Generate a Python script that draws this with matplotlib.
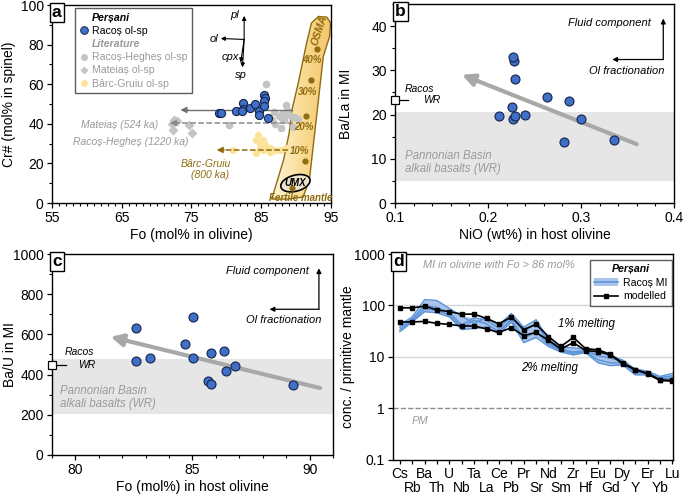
import matplotlib
matplotlib.use('Agg')
import matplotlib.pyplot as plt
import numpy as np
from matplotlib.patches import Polygon, Patch
from matplotlib.lines import Line2D
from matplotlib.colors import LinearSegmentedColormap
from matplotlib.ticker import MultipleLocator, NullLocator, FixedLocator

plt.rcParams['font.family'] = ['Liberation Sans', 'DejaVu Sans']
plt.rcParams['font.size'] = 10
plt.rcParams['axes.linewidth'] = 1.0

BLUE = '#3f6fc6'
BLUE_EDGE = '#15244a'
LIT_GRAY = '#c4c4c4'
YELLOW = '#fde39a'
BROWN = '#8f6c10'
TXT_GRAY = '#9a9a9a'
BAND = '#e6e6e6'

# ---- panel a: olivine-spinel pairs
racos_fo = [78.9, 79.2, 81.4, 82.4, 82.4, 82.3, 83.4, 84.1, 84.7, 84.7, 85.4, 85.5, 85.4, 85.4, 86.0]
racos_cr = [45.7, 45.7, 46.7, 50.5, 47.4, 46.7, 48.0, 50.0, 46.7, 44.2, 54.7, 53.0, 51.3, 48.8, 42.9]
rh_fo = [85.7, 88.6, 80.4, 86.9, 87.5, 88.0, 88.5, 89.0, 89.5, 90.0, 90.2, 87.8, 87.0, 88.2, 89.6, 88.0, 88.7, 86.6]
rh_cr = [60.3, 49.6, 39.5, 45.9, 43.8, 42.7, 44.4, 44.4, 43.2, 42.7, 42.2, 37.9, 40.1, 41.8, 38.4, 44.9, 46.9, 42.0]
mat_fo = [72.5, 72.9, 72.4, 74.7, 75.1, 72.2]
mat_cr = [42.0, 41.5, 37.0, 39.5, 35.6, 39.8]
bg_fo = [84.6, 84.3, 84.8, 85.3, 84.8, 84.3, 85.3, 86.3, 87.0, 87.7, 88.6, 86.3, 81.0, 85.5]
bg_cr = [34.4, 31.9, 30.2, 31.9, 27.7, 25.2, 26.8, 27.7, 26.8, 26.8, 27.7, 25.9, 26.8, 29.4]

osma_dot_fo = [93.0, 92.1, 91.4, 91.3]
osma_dot_cr = [77.7, 62.2, 43.7, 21.4]
osma_pct = ['40%', '30%', '20%', '10%']
osma_pct_fo = [92.3, 91.6, 91.1, 90.5]
osma_pct_cr = [72.0, 56.0, 38.5, 26.5]
fertile_fo, fertile_cr = 89.45, 7.4

osma_edge_fo = [86.5, 88.2, 89.0, 89.4, 90.3, 91.5, 92.2, 93.2, 94.4, 94.95, 94.8, 93.9, 93.2, 92.5, 91.9, 91.0, 88.8]
osma_edge_cr = [2.0, 21.7, 35.3, 47.0, 60.5, 80.8, 90.9, 94.2, 93.9, 90.9, 84.1, 74.0, 52.1, 30.2, 11.6, 3.0, 2.0]

# ---- panel b: Ba/La vs NiO
nio = [0.212, 0.227, 0.229, 0.226, 0.228, 0.227, 0.229, 0.240, 0.264, 0.287, 0.300, 0.282, 0.335]
ba_la = [19.6, 18.9, 19.6, 21.7, 32.1, 33.1, 28.1, 19.8, 24.0, 23.1, 18.9, 13.8, 14.3]
racos_wr_bala = 23.4
pannonian_bala = (5.0, 20.5)

# ---- panel c: Ba/U vs Fo
fo_host = [82.57, 82.57, 83.17, 85.03, 84.68, 85.03, 85.8, 86.36, 86.8, 86.43, 85.68, 85.8, 89.28]
ba_u = [634, 468, 481, 688, 552, 481, 506, 519, 443, 418, 368, 353, 347]
racos_wr_bau = 448
pannonian_bau = (205, 476)

# ---- panel d: spider diagram
elements = ['Cs', 'Rb', 'Ba', 'Th', 'U', 'Nb', 'Ta', 'La', 'Ce', 'Pb', 'Pr', 'Sr',
            'Nd', 'Sm', 'Zr', 'Hf', 'Eu', 'Gd', 'Dy', 'Y', 'Er', 'Yb', 'Lu']
model_1pct = [90, 90, 97, 82, 76, 68, 68, 56, 44, 60, 34, 43, 25, 16, 24, 14.5, 13.8, 11.3, 7.6, 5.7, 4.8, 3.6, 3.5]
model_2pct = [48, 48, 49, 45, 43, 40, 40, 35, 30, 37, 26, 30, 21, 14.3, 19, 13.3, 12.7, 11.0, 7.3, 5.7, 4.7, 3.5, 3.4]
mi_1 = [42, 60, 130, 125, 88, 62, 45, 58, 42, 70, 38, 53, 22, 15.5, 15, 14.5, 13, 10.5, 8.7, 5.8, 5.3, 4.2, 4.8]
mi_2 = [38, 55, 100, 92, 72, 42, 58, 52, 36, 62, 31, 46, 19, 14, 12.5, 13.5, 10.5, 9.5, 8.2, 5.5, 5.0, 4.0, 4.3]
mi_3 = [34, 51, 86, 80, 66, 37, 52, 44, 31, 54, 23, 31, 17.5, 13.2, 11.8, 12.8, 8.8, 7.7, 7.6, 5.0, 4.8, 3.8, 3.9]
mi_4 = [31, 48, 76, 72, 60, 34, 36, 38, 28, 48, 19, 24, 16, 12.5, 11, 12.2, 7.7, 6.8, 7.0, 4.5, 4.5, 3.6, 3.5]


def panel_letter(ax, s):
    ax.text(0.0, 1.0, s, transform=ax.transAxes, ha='left', va='top', fontsize=12.5,
            fontweight='bold', zorder=10,
            bbox=dict(boxstyle='square,pad=0.12', fc='white', ec='black', lw=1.0))


def arrow(ax, xy, xytext, color='black', lw=1.0, ms=8, ls='-'):
    ax.annotate('', xy=xy, xytext=xytext,
                arrowprops=dict(arrowstyle='-|>', color=color, lw=lw, mutation_scale=ms,
                                linestyle=ls, shrinkA=0, shrinkB=0))


def fluid_ol(ax, corner, top, left, fluid_pos, ol_pos):
    arrow(ax, (corner[0], top), corner, ms=7, lw=0.9)
    arrow(ax, (left, corner[1]), corner, ms=7, lw=0.9)
    ax.text(fluid_pos[0], fluid_pos[1], 'Fluid component', ha='right', va='center',
            fontsize=8, style='italic')
    ax.text(ol_pos[0], ol_pos[1], 'Ol fractionation', ha='right', va='center',
            fontsize=8, style='italic')


fig = plt.figure(figsize=(6.85, 4.96), dpi=100)
ax_a = fig.add_axes([0.0759, 0.5907, 0.4073, 0.3992])
ax_b = fig.add_axes([0.5766, 0.5907, 0.4073, 0.4012])
ax_c = fig.add_axes([0.0759, 0.0827, 0.4102, 0.4052])
ax_d = fig.add_axes([0.5737, 0.0726, 0.4088, 0.4153])

# ================= panel a =================
ax = ax_a
ax.set_xlim(55, 95)
ax.set_ylim(0, 100)
ax.xaxis.set_major_locator(FixedLocator([55, 65, 75, 85, 95]))
ax.xaxis.set_minor_locator(MultipleLocator(1))
ax.yaxis.set_major_locator(MultipleLocator(20))
ax.yaxis.set_minor_locator(MultipleLocator(10))
ax.set_xlabel('Fo (mol% in olivine)', labelpad=2)
ax.set_ylabel('Cr# (mol% in spinel)')
ax.yaxis.set_label_coords(-0.13, 0.5)

# OSMA band with a gradient fill
osma_poly = Polygon(np.column_stack([osma_edge_fo, osma_edge_cr]), closed=True,
                    fc='none', ec=BROWN, lw=1.0, zorder=2)
ax.add_patch(osma_poly)
grad = np.linspace(0, 1, 256).reshape(1, -1)
osma_cmap = LinearSegmentedColormap.from_list('osma', ['#fff6dc', '#f9dc95', '#f2c468'])
img = ax.imshow(grad, extent=[86.5, 95, 0, 95], cmap=osma_cmap, aspect='auto', zorder=1)
img.set_clip_path(osma_poly)
ax.scatter(osma_dot_fo, osma_dot_cr, s=12, color=BROWN, zorder=4)
for p, fx, fy in zip(osma_pct, osma_pct_fo, osma_pct_cr):
    ax.text(fx, fy, p, color=BROWN, fontsize=7, style='italic', fontweight='bold',
            ha='center', va='center', zorder=5)
ax.text(93.4, 87.0, 'OSMA', color=BROWN, fontsize=7.5, style='italic', fontweight='bold',
        rotation=72, ha='center', va='center', zorder=5)

# UMX field
t = np.linspace(0, 2 * np.pi, 100)
phi = np.deg2rad(15)
ex = 15 * np.cos(t) * np.cos(phi) - 8 * np.sin(t) * np.sin(phi)
ey = 15 * np.cos(t) * np.sin(phi) + 8 * np.sin(t) * np.cos(phi)
ax.fill(89.9 + ex / 6.975, 10.0 + ey / 1.977, fc='#ece4cc', ec='black', lw=1.2, zorder=4)
ax.text(89.9, 10.0, 'UMX', fontsize=7, style='italic', fontweight='bold', ha='center',
        va='center', zorder=6)
ax.scatter([fertile_fo], [fertile_cr], s=12, color=BROWN, zorder=5)
ax.text(90.6, 2.6, 'Fertile mantle', color=BROWN, fontsize=7, style='italic',
        fontweight='bold', ha='center', va='center', zorder=6)

# literature points and arrows
ax.scatter(bg_fo, bg_cr, s=28, color=YELLOW, lw=0, zorder=3)
ax.scatter(mat_fo, mat_cr, s=26, color=LIT_GRAY, marker='D', lw=0, zorder=3)
ax.scatter(rh_fo, rh_cr, s=30, color=LIT_GRAY, lw=0, zorder=3)
ax.plot([89.4, 74.0], [47.0, 47.0], color='#707070', lw=1.0, zorder=3)
arrow(ax, (73.4, 47.0), (74.5, 47.0), color='#707070', ms=9)
ax.plot([89.6, 72.6], [40.4, 40.4], color='#8a8a8a', lw=1.1, ls='--', zorder=3)
arrow(ax, (71.9, 40.4), (73.0, 40.4), color='#8a8a8a', ms=9)
ax.plot([88.8, 79.3], [26.8, 26.8], color=BROWN, lw=1.1, ls='--', zorder=3)
arrow(ax, (78.6, 26.8), (79.7, 26.8), color=BROWN, ms=9)
ax.scatter(racos_fo, racos_cr, s=34, color=BLUE, edgecolor=BLUE_EDGE, lw=0.8, zorder=5)

ax.text(70.3, 39.3, 'Mateiaș (524 ka)', color=TXT_GRAY, fontsize=7.5, style='italic',
        ha='right', va='center')
ax.text(74.5, 31.0, 'Racoș-Hegheș (1220 ka)', color=TXT_GRAY, fontsize=7.5, style='italic',
        ha='right', va='center')
ax.text(77.0, 19.8, 'Bârc-Gruiu', color=BROWN, fontsize=7.5, style='italic', ha='center', va='center')
ax.text(77.6, 14.3, '(800 ka)', color=BROWN, fontsize=7.5, style='italic', ha='center', va='center')

# mineral vectors
ox, oy = 82.55, 82.6
arrow(ax, (ox, 94.5), (ox, oy), ms=6, lw=0.8)
arrow(ax, (79.2, oy + 0.5), (ox, oy), ms=6, lw=0.8)
arrow(ax, (82.05, 71.0), (ox, oy), ms=6, lw=0.8)
arrow(ax, (82.3, 68.5), (ox, oy), ms=6, lw=0.8)
ax.text(81.8, 95.0, 'pl', fontsize=8, style='italic', ha='right', va='center')
ax.text(78.8, 82.6, 'ol', fontsize=8, style='italic', ha='right', va='center')
ax.text(81.8, 73.5, 'cpx', fontsize=8, style='italic', ha='right', va='center')
ax.text(82.1, 64.5, 'sp', fontsize=8, style='italic', ha='center', va='center')

leg_handles = [
    Line2D([], [], ls='none'),
    Line2D([], [], ls='none', marker='o', ms=5.5, mfc=BLUE, mec=BLUE_EDGE, mew=0.7),
    Line2D([], [], ls='none'),
    Line2D([], [], ls='none', marker='o', ms=5, mfc=LIT_GRAY, mec='none'),
    Line2D([], [], ls='none', marker='D', ms=4.5, mfc=LIT_GRAY, mec='none'),
    Line2D([], [], ls='none', marker='o', ms=5, mfc=YELLOW, mec='none'),
]
leg_labels = ['Perșani', 'Racoș ol-sp', 'Literature', 'Racoș-Hegheș ol-sp',
              'Mateiaș ol-sp', 'Bârc-Gruiu ol-sp']
leg = ax.legend(leg_handles, leg_labels, loc='upper left', bbox_to_anchor=(0.083, 0.985),
                fontsize=7.6, frameon=True, fancybox=False, edgecolor='#333333',
                handlelength=0.7, handletextpad=0.4, borderpad=0.45, labelspacing=0.3,
                borderaxespad=0)
leg.get_frame().set_linewidth(1.0)
for i, txt in enumerate(leg.get_texts()):
    if i == 0:
        txt.set_fontweight('bold'); txt.set_style('italic')
    elif i == 2:
        txt.set_fontweight('bold'); txt.set_style('italic'); txt.set_color(TXT_GRAY)
    elif i > 2:
        txt.set_color(TXT_GRAY)
panel_letter(ax, 'a')

# ================= panel b =================
ax = ax_b
ax.set_xlim(0.1, 0.4)
ax.set_ylim(0, 45)
ax.xaxis.set_major_locator(FixedLocator([0.1, 0.2, 0.3, 0.4]))
ax.xaxis.set_minor_locator(MultipleLocator(0.02))
ax.yaxis.set_major_locator(MultipleLocator(10))
ax.yaxis.set_minor_locator(MultipleLocator(5))
ax.set_xticklabels(['0.1', '0.2', '0.3', '0.4'])
ax.set_xlabel('NiO (wt%) in host olivine', labelpad=2)
ax.set_ylabel('Ba/La in MI')
ax.yaxis.set_label_coords(-0.15, 0.5)
ax.axhspan(*pannonian_bala, color=BAND, lw=0, zorder=0)
ax.text(0.111, 10.6, 'Pannonian Basin', color=TXT_GRAY, fontsize=8.3, style='italic', va='center')
ax.text(0.111, 7.6, 'alkali basalts (WR)', color=TXT_GRAY, fontsize=8.3, style='italic', va='center')
ax.annotate('', xy=(0.172, 29.0), xytext=(0.36, 13.3),
            arrowprops=dict(arrowstyle='-|>', color='#a8a8a8', lw=3.0, mutation_scale=18,
                            shrinkA=0, shrinkB=0), zorder=2)
ax.scatter(nio, ba_la, s=42, color=BLUE, edgecolor=BLUE_EDGE, lw=0.8, zorder=5)
ax.plot([0.1, 0.114], [racos_wr_bala, racos_wr_bala], color='black', lw=0.9, clip_on=False)
ax.plot([0.1], [racos_wr_bala], marker='s', ms=6, mfc='white', mec='black', mew=0.9,
        clip_on=False, zorder=6)
ax.text(0.142, 25.8, 'Racos', fontsize=7.5, style='italic', ha='right', va='center')
ax.text(0.1485, 23.3, 'WR', fontsize=7.5, style='italic', ha='right', va='center')
fluid_ol(ax, (0.3885, 32.45), 41.7, 0.3336, (0.375, 40.75), (0.39, 29.9))
panel_letter(ax, 'b')

# ================= panel c =================
ax = ax_c
ax.set_xlim(79, 91)
ax.set_ylim(0, 1000)
ax.xaxis.set_major_locator(FixedLocator([80, 85, 90]))
ax.xaxis.set_minor_locator(MultipleLocator(1))
ax.yaxis.set_major_locator(MultipleLocator(200))
ax.yaxis.set_minor_locator(MultipleLocator(100))
ax.set_xlabel('Fo (mol%) in host olivine', labelpad=2)
ax.set_ylabel('Ba/U in MI')
ax.yaxis.set_label_coords(-0.125, 0.5)
ax.axhspan(*pannonian_bau, color=BAND, lw=0, zorder=0)
ax.text(79.33, 318, 'Pannonian Basin', color=TXT_GRAY, fontsize=8.3, style='italic', va='center')
ax.text(79.33, 255, 'alkali basalts (WR)', color=TXT_GRAY, fontsize=8.3, style='italic', va='center')
ax.annotate('', xy=(81.5, 588), xytext=(90.45, 333),
            arrowprops=dict(arrowstyle='-|>', color='#a8a8a8', lw=3.0, mutation_scale=18,
                            shrinkA=0, shrinkB=0), zorder=2)
ax.scatter(fo_host, ba_u, s=42, color=BLUE, edgecolor=BLUE_EDGE, lw=0.8, zorder=5)
ax.plot([79, 79.6], [racos_wr_bau, racos_wr_bau], color='black', lw=0.9, clip_on=False)
ax.plot([79], [racos_wr_bau], marker='s', ms=6, mfc='white', mec='black', mew=0.9,
        clip_on=False, zorder=6)
ax.text(80.8, 510, 'Racos', fontsize=7.5, style='italic', ha='right', va='center')
ax.text(80.85, 450, 'WR', fontsize=7.5, style='italic', ha='right', va='center')
fluid_ol(ax, (90.4, 725), 929, 88.29, (89.95, 915), (90.5, 672))
panel_letter(ax, 'c')

# ================= panel d =================
ax = ax_d
pos = np.arange(len(elements))
ax.set_yscale('log')
ax.set_ylim(0.1, 1000)
ax.set_xlim(-0.55, 22.05)
ax.set_yticks([0.1, 1, 10, 100, 1000])
ax.set_yticklabels(['0.1', '1', '10', '100', '1000'])
ax.yaxis.set_minor_locator(NullLocator())
ax.set_xticks(pos[::2])
ax.set_xticklabels(elements[::2])
ax.set_xticks(pos[1::2], minor=True)
ax.set_xticklabels(elements[1::2], minor=True)
ax.set_ylabel('conc. / primitive mantle')
ax.yaxis.set_label_coords(-0.136, 0.5)
for g in (10, 100):
    ax.axhline(g, color='#d6d6d6', lw=1.0, zorder=0)
ax.axhline(1, color='#8a8a8a', lw=1.0, ls='--', zorder=0)
ax.text(1.6, 0.57, 'PM', color=TXT_GRAY, fontsize=8, style='italic', ha='center', va='center')
ax.text(1.85, 610, 'MI in olivine with Fo > 86 mol%', color=TXT_GRAY, fontsize=7.9,
        style='italic', ha='left', va='center')

mi_all = np.array([mi_1, mi_2, mi_3, mi_4])
ax.fill_between(pos, mi_all.min(axis=0), mi_all.max(axis=0), color='#a9c3ea', lw=0, zorder=1)
for line in mi_all:
    ax.plot(pos, line, color='#5b93d8', lw=1.0, zorder=2)
ax.plot(pos, model_1pct, color='black', lw=1.2, marker='s', ms=2.5, zorder=4)
ax.plot(pos, model_2pct, color='black', lw=1.2, marker='s', ms=2.5, zorder=4)
ax.text(15.1, 44, '1% melting', fontsize=8.3, style='italic', ha='center', va='center')
ax.text(12.1, 6.1, '2% melting', fontsize=8.3, style='italic', ha='center', va='center')

d_handles = [(Patch(fc='#a9c3ea', ec='none'), Line2D([], [], color='#5b93d8', lw=1.2)),
             Line2D([], [], color='black', lw=1.2, marker='s', ms=2.5)]
leg = ax.legend(d_handles, ['Racoș MI', 'modelled'], loc='upper right',
                bbox_to_anchor=(0.997, 0.972), title='Perșani',
                fontsize=7.6, title_fontproperties={'weight': 'bold', 'style': 'italic', 'size': 7.6},
                frameon=True, fancybox=False, edgecolor='#333333', borderpad=0.4,
                handlelength=2.3, handletextpad=0.5, labelspacing=0.35, borderaxespad=0)
leg.get_frame().set_linewidth(1.0)
panel_letter(ax, 'd')

for a in (ax_a, ax_b, ax_c, ax_d):
    a.tick_params(which='major', length=3.5, width=0.9, labelsize=10, pad=2.5)
    a.tick_params(which='minor', length=2, width=0.8)
ax_d.tick_params(axis='x', which='major', length=3, pad=2)
ax_d.tick_params(axis='x', which='minor', length=3, width=0.9, labelsize=10, pad=12)

fig.savefig('out.png', dpi=100)
